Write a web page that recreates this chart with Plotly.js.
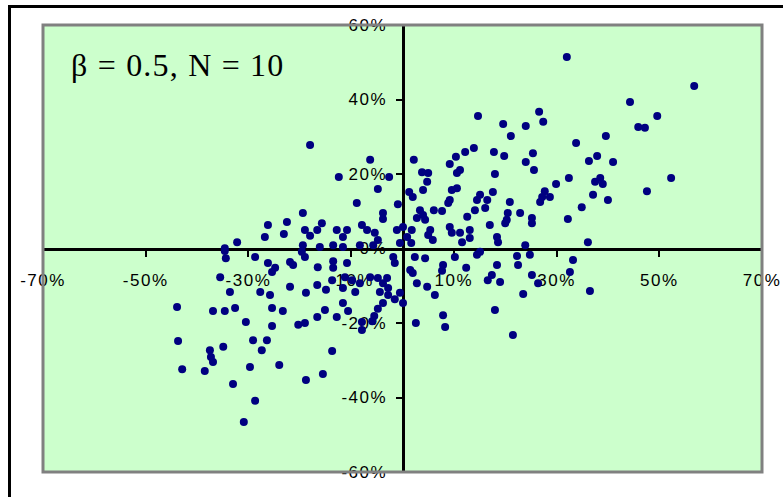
<!DOCTYPE html>
<html>
<head>
<meta charset="utf-8">
<script src="https://cdn.plot.ly/plotly-3.0.1.min.js"></script>
<style>
  html, body { margin: 0; padding: 0; background: #fff; }
  #wrap { position: relative; width: 783px; height: 497px; overflow: hidden; }
  #chart { position: absolute; left: 0; top: 0; width: 783px; height: 497px; }
  #frame { position: absolute; left: 8px; top: 5px; width: 800px; height: 520px;
           border-left: 3px solid #000; border-top: 3px solid #000; pointer-events: none; }
  .xtick text, .ytick text { letter-spacing: 1.5px; }
  .annotation-text { letter-spacing: 1.2px; }
</style>
</head>
<body>
<div id="wrap">
  <div id="chart"></div>
  <div id="frame"></div>
</div>
<script>
// Market return (x, %) vs portfolio return (y, %), beta = 0.5, N = 10
const xValues = [
  32.0, 56.8, 44.3, 49.6, 45.9, 47.2, 14.7, 19.6, 24.0, 26.6,
  27.4, 21.1, 33.8, 39.6, 17.8, 19.8, 13.9, 12.2, 10.4, 9.2,
  11.2, 10.6, 2.2, 3.8, 5.0, 4.8, 4.0, 25.4, 24.0, 25.6,
  36.3, 37.9, 41.0, 18.0, 32.4, 52.3, 38.5, 37.5, 39.0, 47.6,
  37.1, 40.0, 34.9, 32.2, 29.9, 27.7, 27.2, 26.8, 28.7, 25.2,
  25.2, 22.9, 20.3, 20.0, 20.5, 20.9, 17.0, 18.4, 18.6, 15.1,
  16.5, 17.6, 14.5, 16.1, 14.1, 12.6, 10.6, 9.6, 9.2, 8.9,
  6.1, 7.7, 2.0, 1.3, 3.4, 4.0, 2.8, 4.4, 9.2, 9.6,
  11.2, 13.1, 13.1, 11.6, 5.4, 5.0, 5.9, 0.1, 1.8, 0.9,
  -0.5, 23.9, 36.1, -0.9, -3.8, -3.8, 1.7,
  -18.0, -6.3, -12.4, -2.6, -4.8, -8.9, -19.4, -15.7, -16.6, -19.0,
  -18.0, -12.8, -10.8, -11.6, -7.9, -6.9, -5.4, -4.8, -8.3, -5.7,
  -19.4, -16.1, -13.5, -11.6, -1.1, -26.2, -22.5, -23.1, -26.8, -32.2,
  -34.6,
  -34.6, -34.4, -28.7, -26.2, -24.8, -25.4, -21.9, -21.3, -19.6, -19.0,
  -16.5, -13.5, -13.5, -10.8, -35.5, -33.6, -27.7, -25.8, -21.9, -16.6,
  -18.8, -14.9, -11.6, -11.6, -10.6, -3.0, -2.8, -1.5, -3.8, -4.8,
  -5.5, -5.9, -8.3, -11.2, -9.8, -13.7, -6.3, -4.8, -3.8, -2.8,
  -4.4, -9.2, -43.9, -36.9, -34.6, -32.6, -30.5, -25.4, -23.3, -25.4,
  -16.6, -15.1, -12.8, -19.0, -7.9, -7.9, -43.7, -34.9, -37.5, -37.3,
  -36.9, -29.1, -26.4, -27.4, -13.7, -42.9, -38.5, -29.7, -24.0, -18.8,
  -15.5, -33.0, -28.7, -30.9, -20.3, -1.8, -1.5,
  2.4, 4.4, 7.9, 7.7, 10.2, 14.5, 15.1, 18.4, 17.4, 16.6,
  19.0, 22.3, 22.5, 24.8, 25.2, 26.4, 23.5, 6.3, 18.0, 7.9,
  8.3, 21.5, 12.4, 33.2, 32.6, 36.5, 2.6, 2.0, 2.8, 4.8,
  1.5, -0.5, 0.1
];
const yValues = [
  51.4, 43.6, 39.3, 35.6, 32.6, 32.4, 35.6, 33.4, 32.9, 36.7,
  34.0, 30.2, 28.3, 30.2, 25.9, 24.8, 27.0, 25.9, 24.6, 22.7,
  21.1, 20.3, 23.8, 20.5, 20.3, 17.9, 15.7, 25.6, 23.2, 21.1,
  23.5, 24.8, 23.2, 20.0, 18.9, 18.9, 18.9, 17.9, 17.3, 15.4,
  14.4, 13.0, 11.1, 7.9, 17.3, 15.4, 13.8, 12.5, 13.8, 8.2,
  6.8, 9.5, 7.7, 6.8, 9.5, 12.5, 6.3, 3.1, 1.7, 14.4,
  13.0, 15.2, 13.0, 10.9, 10.3, 8.5, 16.2, 15.7, 13.0, 12.2,
  10.3, 10.1, 13.8, 15.2, 10.3, 9.0, 8.2, 7.7, 5.8, 4.2,
  4.2, 5.0, 2.8, 1.7, 5.0, 3.6, 2.3, 5.8, 5.0, 3.1,
  1.5, 0.9, 1.7, 11.9, 9.5, 7.9, 1.5,
  27.8, 23.8, 19.2, 19.2, 16.0, 12.2, 9.5, 6.8, 5.0, 5.0,
  3.4, 5.0, 5.0, 3.1, 6.3, 5.0, 4.2, 2.3, 0.9, 0.9,
  0.9, 0.4, 0.9, 0.4, 5.0, 6.3, 7.1, 3.9, 3.1, 1.7,
  0.1,
  -0.7, -2.6, -2.3, -3.9, -5.2, -6.3, -3.6, -4.4, -0.9, -2.3,
  -5.0, -3.4, -5.2, -3.9, -7.7, -11.7, -11.7, -12.5, -10.3, -9.8,
  -11.9, -11.1, -10.6, -14.6, -16.8, -7.9, -12.5, -13.6, -14.6, -16.2,
  -18.1, -19.5, -9.3, -7.7, -8.5, -8.5, -7.7, -7.9, -9.3, -10.6,
  -11.7, -11.7, -15.7, -16.8, -16.8, -16.0, -19.7, -16.0, -16.8, -20.8,
  -18.4, -16.5, -18.4, -20.0, -19.7, -21.9, -24.8, -26.4, -27.3, -29.1,
  -30.5, -24.6, -24.6, -27.3, -27.5, -32.4, -32.9, -31.8, -31.3, -35.3,
  -33.7, -36.4, -40.9, -46.6, -20.5, -2.3, -3.9,
  -2.3, -2.6, -4.4, -6.0, -2.3, -1.7, -0.9, -4.4, -7.1, -8.5,
  -9.0, -2.0, -4.4, -1.7, -7.1, -9.3, -12.2, -12.5, -16.5, -17.9,
  -21.1, -23.2, -5.2, -3.1, -6.3, -11.4, -20.0, -6.6, -9.3, -10.3,
  -5.8, -11.9, -14.6
];
const xTickVals = [-70, -50, -30, -10, 10, 30, 50, 70];
const xTickText = ['-70%', '-50%', '-30%', '-10%', '10%', '30%', '50%', '70%'];
const yTickVals = [-60, -40, -20, 0, 20, 40, 60];
const yTickText = ['-60%', '-40%', '-20%', '0%', '20%', '40%', '60%'];
const labelText = '\u03B2 = 0.5, N = 10';

const trace = {
  x: xValues, y: yValues, type: 'scatter', mode: 'markers',
  marker: { color: '#000080', size: 8, symbol: 'circle', line: { width: 0 } },
  hoverinfo: 'x+y'
};

const tickFont = { family: 'Liberation Sans, Arial, sans-serif', size: 17, color: '#000' };

const layout = {
  width: 783, height: 497,
  margin: { l: 43, r: 21, t: 25, b: 25, pad: 0 },
  paper_bgcolor: '#ffffff',
  plot_bgcolor: '#CCFFCC',
  showlegend: false,
  xaxis: {
    range: [-70, 70], anchor: 'free', position: 0.5,
    showline: true, linecolor: '#000', linewidth: 3,
    showgrid: false, zeroline: false,
    tickmode: 'array', tickvals: xTickVals, ticktext: xTickText,
    ticks: 'outside', ticklen: 6, tickwidth: 2, tickcolor: '#000',
    ticklabelstandoff: 9,
    tickfont: tickFont, layer: 'below traces', fixedrange: true
  },
  yaxis: {
    range: [-60, 60], anchor: 'free', position: 0.5,
    showline: true, linecolor: '#000', linewidth: 3,
    showgrid: false, zeroline: false,
    tickmode: 'array', tickvals: yTickVals, ticktext: yTickText,
    ticks: 'outside', ticklen: 6, tickwidth: 2, tickcolor: '#000',
    ticklabelstandoff: 5,
    tickfont: tickFont, layer: 'below traces', fixedrange: true
  },
  shapes: [{
    type: 'rect', xref: 'paper', yref: 'paper', x0: 0, x1: 1, y0: 0, y1: 1,
    line: { color: '#808080', width: 3 }, fillcolor: 'rgba(0,0,0,0)', layer: 'above'
  }],
  annotations: [{
    text: labelText, xref: 'paper', yref: 'paper', x: 0.036, y: 0.91,
    xanchor: 'left', yanchor: 'middle', showarrow: false,
    font: { family: 'Liberation Serif, Times New Roman, serif', size: 32, color: '#000' }
  }]
};

Plotly.newPlot('chart', [trace], layout, { displayModeBar: false, staticPlot: true });
</script>
</body>
</html>
